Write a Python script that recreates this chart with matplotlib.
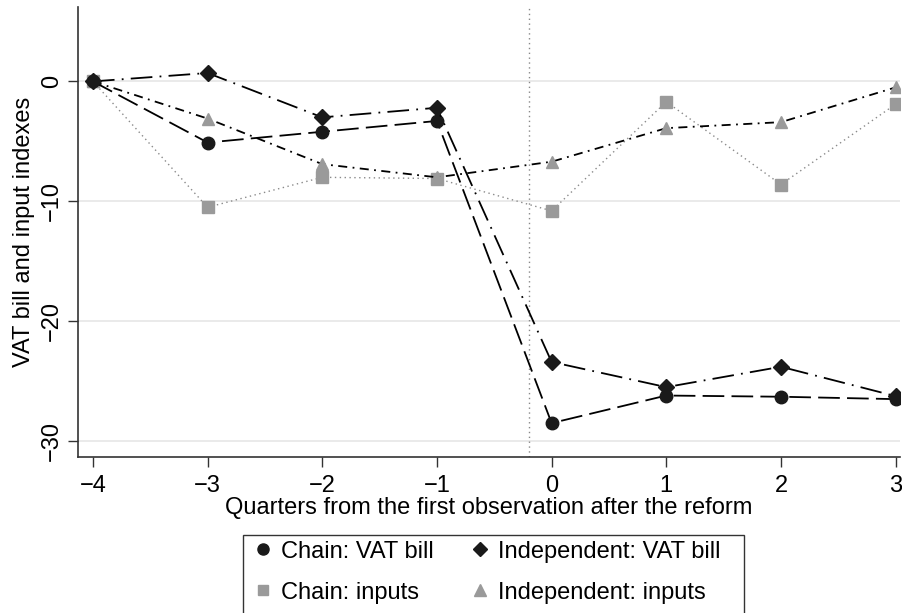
import matplotlib.pyplot as plt
from matplotlib.lines import Line2D
from matplotlib.patches import Rectangle

plt.rcParams['font.family'] = ['Liberation Sans', 'DejaVu Sans']

# Quarters relative to the reform
quarters = [-4, -3, -2, -1, 0, 1, 2, 3]

chain_vat = [0, -5.1, -4.2, -3.3, -28.5, -26.2, -26.3, -26.5]
indep_vat = [0, 0.7, -3.0, -2.2, -23.4, -25.5, -23.8, -26.25]
chain_inputs = [0, -10.5, -8.0, -8.1, -10.8, -1.7, -8.6, -1.9]
indep_inputs = [0, -3.1, -6.9, -8.0, -6.7, -3.9, -3.4, -0.5]

reform_line = -0.2
yticks = [0, -10, -20, -30]

dark = '#1a1a1a'
grey = '#9a9a9a'
fs = 17

fig = plt.figure(figsize=(9.02, 6.13), dpi=100)
ax = fig.add_axes([0.0865, 0.255, 0.9115, 0.7335])

for y in yticks:
    ax.axhline(y, color='#e6e6e6', lw=1.2, zorder=0)
ax.axvline(reform_line, color='#888888', lw=1.0, ls=(0, (1, 2.5)), zorder=1)

ax.plot(quarters, chain_inputs, color='#8a8a8a', lw=1.0, ls=(0, (1, 2.5)),
        marker='s', ms=8, mfc=grey, mec=grey, zorder=2)
ax.plot(quarters, indep_inputs, color='black', lw=1.3, ls=(0, (5, 3, 1, 3)),
        marker='^', ms=9, mfc=grey, mec=grey, zorder=2)
ax.plot(quarters, chain_vat, color='black', lw=1.3, ls=(0, (12, 4)),
        marker='o', ms=9, mfc=dark, mec=dark, zorder=3)
ax.plot(quarters, indep_vat, color='black', lw=1.3, ls=(0, (12, 4, 1, 4)),
        marker='D', ms=8, mfc=dark, mec=dark, zorder=3)

ax.set_xlim(-4.13, 3.04)
ax.set_ylim(-31.3, 6.2)
ax.set_xticks(quarters)
ax.set_xticklabels([str(q).replace('-', '\u2212') for q in quarters])
ax.set_yticks(yticks)
ax.set_yticklabels([str(y).replace('-', '\u2212') for y in yticks],
                   rotation=90, va='center')
ax.tick_params(length=7, width=1, labelsize=fs, color='#333333')
ax.tick_params(axis='x', pad=6)
ax.tick_params(axis='y', pad=4)
for s in ['top', 'right']:
    ax.spines[s].set_visible(False)
for s in ['left', 'bottom']:
    ax.spines[s].set_color('#333333')
    ax.spines[s].set_linewidth(1.2)

ax.set_xlabel('Quarters from the first observation after the reform', fontsize=fs, labelpad=0)
ax.set_ylabel('VAT bill and input indexes', fontsize=fs, labelpad=4)

handles = [
    Line2D([], [], ls='none', marker='o', ms=8, mfc=dark, mec=dark),
    Line2D([], [], ls='none', marker='s', ms=7, mfc=grey, mec=grey),
    Line2D([], [], ls='none', marker='D', ms=7, mfc=dark, mec=dark),
    Line2D([], [], ls='none', marker='^', ms=8, mfc=grey, mec=grey),
]
labels = ['Chain: VAT bill', 'Chain: inputs', 'Independent: VAT bill', 'Independent: inputs']
fig.legend(handles, labels, ncol=2, loc='upper left',
           bbox_to_anchor=(0.281, 0.118), fontsize=fs, frameon=False,
           handlelength=0.8, handletextpad=0.35, columnspacing=1.57,
           borderpad=0, borderaxespad=0, labelspacing=0.8)
# legend frame (box runs off the bottom edge like the original)
fig.patches.append(Rectangle((0.2694, -0.005), 0.5554, 0.132, transform=fig.transFigure,
                             fill=False, edgecolor='#333333', lw=1.0))

plt.savefig('out.png', dpi=100)
